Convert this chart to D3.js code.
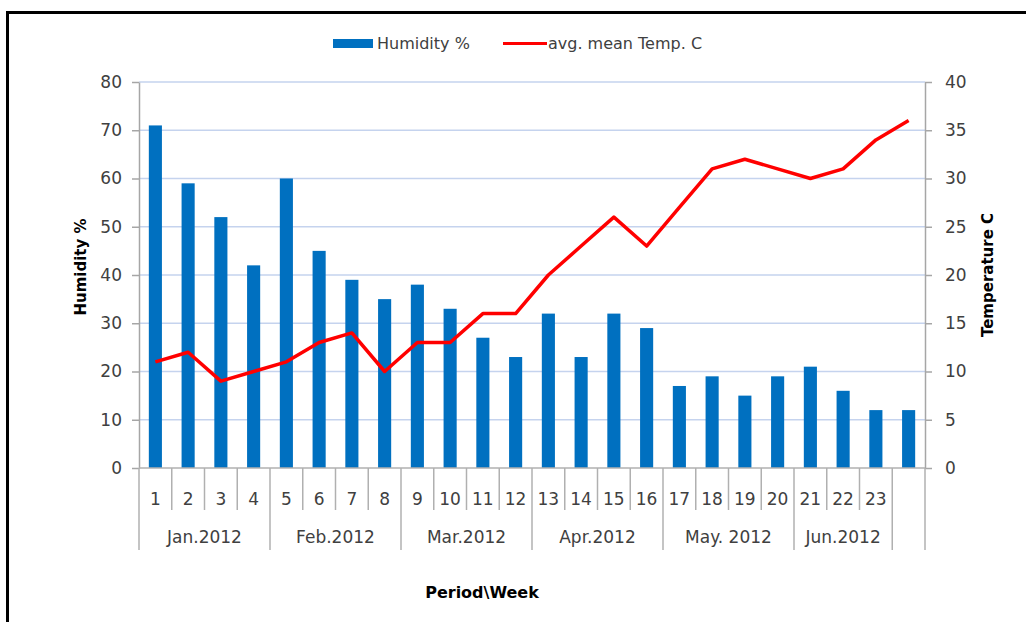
<!DOCTYPE html>
<html>
<head>
<meta charset="utf-8">
<script src="https://cdn.jsdelivr.net/npm/d3@7"></script>
<style>
  body { margin: 0; background: #fff; }
  svg { display: block; font-family: "DejaVu Sans", sans-serif; }
</style>
</head>
<body>
<div id="chart"></div>
<script>
// chart data
const weeks = d3.range(1, 25);
const weekLabels = ["1","2","3","4","5","6","7","8","9","10","11","12","13","14","15","16","17","18","19","20","21","22","23",""];
const humidity = [71, 59, 52, 42, 60, 45, 39, 35, 38, 33, 27, 23, 32, 23, 32, 29, 17, 19, 15, 19, 21, 16, 12, 12];
const temperature = [11, 12, 9, 10, 11, 13, 14, 10, 13, 13, 16, 16, 20, 23, 26, 23, 27, 31, 32, 31, 30, 31, 34, 36];
const monthLabels = ["Jan.2012", "Feb.2012", "Mar.2012", "Apr.2012", "May. 2012", "Jun.2012", ""];
const monthSpans = [4, 4, 4, 4, 4, 3, 1];
const humidityTicks = d3.range(0, 81, 10);
const tempTicks = d3.range(0, 41, 5);

const width = 1026, height = 622;
const plotLeft = 139, plotRight = 925, plotTop = 82, plotBottom = 468;

const svg = d3.select("#chart").append("svg")
    .attr("width", width)
    .attr("height", height);

// black frame of the original image
svg.append("path")
    .attr("d", `M7.5,${height + 5} V12.5 H${width + 5}`)
    .attr("fill", "none")
    .attr("stroke", "#000")
    .attr("stroke-width", 3);

// scales
const x = d3.scaleBand().domain(weeks).range([plotLeft, plotRight]).paddingInner(0.6).paddingOuter(0.3);
const xCat = d3.scaleBand().domain(weeks).range([plotLeft, plotRight]);
const yH = d3.scaleLinear().domain([0, 80]).range([plotBottom, plotTop]);
const yT = d3.scaleLinear().domain([0, 40]).range([plotBottom, plotTop]);

// gridlines
svg.append("g")
    .selectAll("line")
    .data(humidityTicks.filter(d => d > 0))
    .join("line")
    .attr("x1", plotLeft).attr("x2", plotRight)
    .attr("y1", d => yH(d)).attr("y2", d => yH(d))
    .attr("stroke", "#c5d3ee")
    .attr("stroke-width", 1.5);

// left axis
const axL = svg.append("g")
    .attr("transform", `translate(${plotLeft},0)`)
    .call(d3.axisLeft(yH).tickValues(humidityTicks).tickSize(7).tickPadding(10).tickSizeOuter(0));
// right axis
const axR = svg.append("g")
    .attr("transform", `translate(${plotRight},0)`)
    .call(d3.axisRight(yT).tickValues(tempTicks).tickSize(7).tickPadding(13).tickSizeOuter(0));

[axL, axR].forEach(ax => {
    ax.select(".domain").attr("stroke", "#a6a6a6").attr("stroke-width", 1.5);
    ax.selectAll(".tick line").attr("stroke", "#a6a6a6").attr("stroke-width", 1.5);
    ax.selectAll(".tick text")
        .attr("fill", "#404040")
        .style("font-size", "17px")
        .style("font-family", "DejaVu Sans, sans-serif");
});

// bars
svg.append("g")
    .selectAll("rect")
    .data(humidity)
    .join("rect")
    .attr("x", (d, i) => x(weeks[i]))
    .attr("y", d => yH(d))
    .attr("width", x.bandwidth())
    .attr("height", d => yH(0) - yH(d))
    .attr("fill", "#0070c0");

// temperature line
const line = d3.line()
    .x((d, i) => x(weeks[i]) + x.bandwidth() / 2)
    .y(d => yT(d));

svg.append("path")
    .datum(temperature)
    .attr("d", line)
    .attr("fill", "none")
    .attr("stroke", "#ff0000")
    .attr("stroke-width", 3.5)
    .attr("stroke-linejoin", "round");

// category axis
const cat = svg.append("g").attr("stroke", "#b0b0b0").attr("stroke-width", 1.5);
cat.append("line")
    .attr("x1", plotLeft).attr("x2", plotRight)
    .attr("y1", plotBottom).attr("y2", plotBottom);

// boundaries of month groups
let groupEdges = [0];
monthSpans.forEach(s => groupEdges.push(groupEdges[groupEdges.length - 1] + s));

const edgeX = i => i < weeks.length ? xCat(weeks[i]) : plotRight;

cat.selectAll(".wsep")
    .data(d3.range(0, weeks.length + 1).filter(i => !groupEdges.includes(i)))
    .join("line")
    .attr("x1", edgeX).attr("x2", edgeX)
    .attr("y1", plotBottom).attr("y2", 510);

cat.selectAll(".gsep")
    .data(groupEdges)
    .join("line")
    .attr("x1", edgeX).attr("x2", edgeX)
    .attr("y1", plotBottom).attr("y2", 550);

svg.append("g")
    .selectAll("text")
    .data(weekLabels)
    .join("text")
    .attr("x", (d, i) => xCat(weeks[i]) + xCat.bandwidth() / 2)
    .attr("y", 505)
    .attr("text-anchor", "middle")
    .attr("fill", "#404040")
    .style("font-size", "17px")
    .text(d => d);

svg.append("g")
    .selectAll("text")
    .data(monthLabels)
    .join("text")
    .attr("x", (d, i) => (edgeX(groupEdges[i]) + edgeX(groupEdges[i + 1])) / 2)
    .attr("y", 543)
    .attr("text-anchor", "middle")
    .attr("fill", "#404040")
    .style("font-size", "17px")
    .text(d => d);

// axis titles
svg.append("text")
    .attr("transform", "translate(86,267) rotate(-90)")
    .attr("text-anchor", "middle")
    .style("font-size", "15px")
    .style("font-weight", "bold")
    .text("Humidity %");

svg.append("text")
    .attr("transform", "translate(993,275) rotate(-90)")
    .attr("text-anchor", "middle")
    .style("font-size", "15px")
    .style("font-weight", "bold")
    .text("Temperature C");

svg.append("text")
    .attr("x", 482)
    .attr("y", 598)
    .attr("text-anchor", "middle")
    .style("font-size", "16px")
    .style("font-weight", "bold")
    .text("Period\\Week");

// legend
const legend = svg.append("g");
legend.append("rect")
    .attr("x", 333).attr("y", 39)
    .attr("width", 40).attr("height", 9)
    .attr("fill", "#0070c0");
legend.append("text")
    .attr("x", 377).attr("y", 49)
    .attr("fill", "#404040")
    .style("font-size", "16px")
    .text("Humidity %");
legend.append("line")
    .attr("x1", 503).attr("x2", 547)
    .attr("y1", 43.5).attr("y2", 43.5)
    .attr("stroke", "#ff0000")
    .attr("stroke-width", 3);
legend.append("text")
    .attr("x", 548).attr("y", 49)
    .attr("fill", "#404040")
    .style("font-size", "16px")
    .text("avg. mean Temp. C");
</script>
</body>
</html>
